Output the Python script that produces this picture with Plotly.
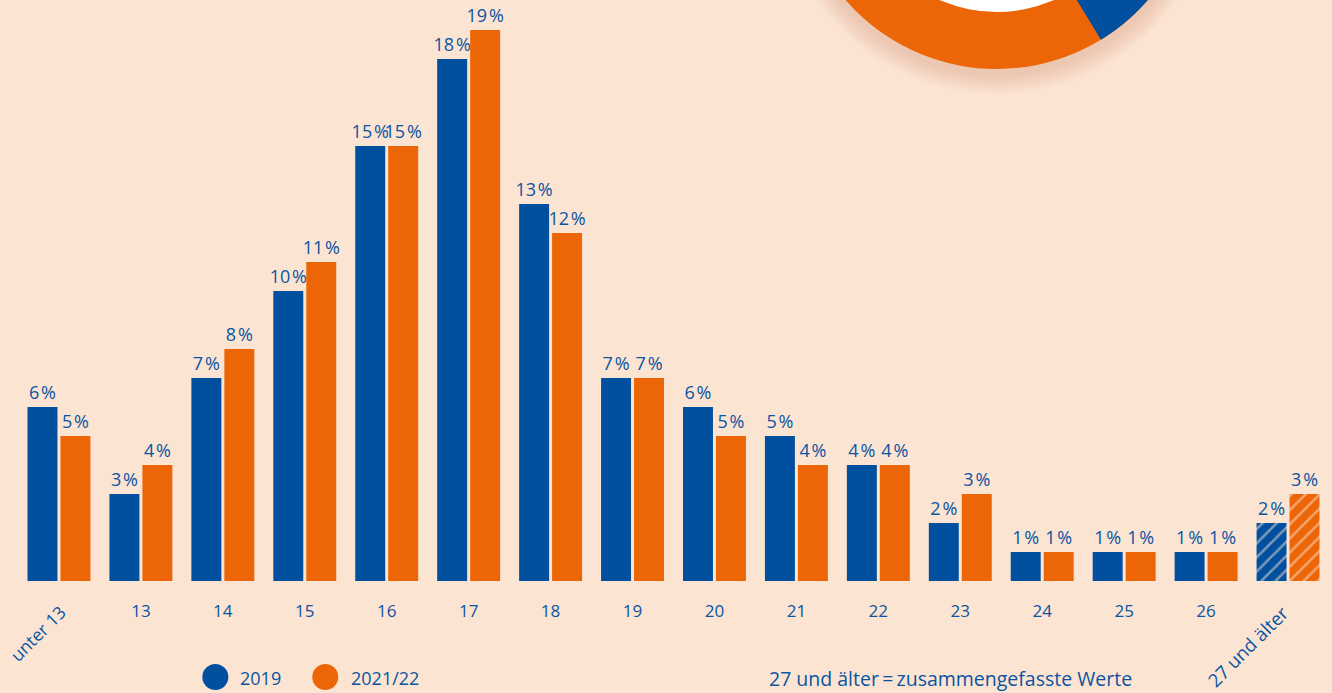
import numpy as np
import plotly.graph_objects as go

# ---------------- data ----------------
categories = ["unter 13", "13", "14", "15", "16", "17", "18", "19", "20",
              "21", "22", "23", "24", "25", "26", "27 und älter"]
values_2019 = [6, 3, 7, 10, 15, 18, 13, 7, 6, 5, 4, 2, 1, 1, 1, 2]
values_2021 = [5, 4, 8, 11, 15, 19, 12, 7, 5, 4, 4, 3, 1, 1, 1, 3]
series_names = ["2019", "2021/22"]
rotated_ticks = ["unter 13", "27 und älter"]
note_text = "27 und älter\u2009=\u2009zusammengefasste Werte"

# ---------------- style ----------------
BG = "#FCE4D3"
BLUE = "#00509F"
ORANGE = "#EC6608"
TEXT = "#0A54A2"
FONT = "Open Sans"

W, H = 1332, 693
ML, MR, MT, MB = 17.5, 2.5, 0, 112
PW, PH = W - ML - MR, H - MT - MB


def px_x(px):
    return (px - ML) / PW


def px_y(py):
    return (H - MB - py) / PH


def label(v):
    return f"{v}\u200a%"


hatch = ["/" if c == "27 und älter" else "" for c in categories]

fig = go.Figure()
for name, vals, col in [(series_names[0], values_2019, BLUE),
                        (series_names[1], values_2021, ORANGE)]:
    fig.add_trace(go.Bar(
        x=categories, y=vals, name=name,
        marker=dict(color=col, line=dict(width=0),
                    pattern=dict(shape=hatch, fgcolor=BG, bgcolor=col,
                                 size=10, solidity=0.25, fillmode="overlay")),
        text=[label(v) for v in vals], textposition="outside",
        textfont=dict(family=FONT, size=18, color=TEXT),
        constraintext="none", cliponaxis=False, showlegend=False,
    ))

ticktext = ["" if c in rotated_ticks else c for c in categories]

fig.update_layout(
    width=W, height=H,
    margin=dict(l=ML, r=MR, t=MT, b=MB),
    paper_bgcolor=BG, plot_bgcolor=BG,
    barmode="group", bargap=16 / 82, bargroupgap=3 / 33,
    showlegend=False,
    xaxis=dict(type="category", categoryorder="array", categoryarray=categories,
               tickmode="array", tickvals=categories, ticktext=ticktext,
               showgrid=False, zeroline=False, showline=False, ticks="",
               tickangle=0, ticklabelstandoff=18,
               tickfont=dict(family=FONT, size=17, color=TEXT),
               range=[-0.5, len(categories) - 0.5]),
    yaxis=dict(range=[0, PH / 29], showgrid=False, zeroline=False,
               showline=False, showticklabels=False, ticks=""),
)

# rotated tick labels
fig.add_annotation(x=categories[0], y=0, xref="x", yref="paper",
                   text=rotated_ticks[0], textangle=-45, showarrow=False,
                   xanchor="center", yanchor="middle", xshift=-21, yshift=-52,
                   font=dict(family=FONT, size=17.5, color=TEXT))
fig.add_annotation(x=categories[-1], y=0, xref="x", yref="paper",
                   text=rotated_ticks[1], textangle=-45, showarrow=False,
                   xanchor="center", yanchor="middle", xshift=-41, yshift=-65,
                   font=dict(family=FONT, size=18.5, color=TEXT))

# legend (circles + text)
for cx, tx, col, name in [(215, 238, BLUE, series_names[0]),
                          (325, 349, ORANGE, series_names[1])]:
    fig.add_shape(type="circle", xref="paper", yref="paper",
                  xsizemode="pixel", ysizemode="pixel",
                  xanchor=px_x(cx), yanchor=px_y(677),
                  x0=-13, x1=13, y0=-13, y1=13,
                  fillcolor=col, line=dict(width=0))
    fig.add_annotation(x=px_x(tx), y=px_y(678), xref="paper", yref="paper",
                       text=name, showarrow=False, xanchor="left", yanchor="middle",
                       font=dict(family=FONT, size=18, color=TEXT))

fig.add_annotation(x=px_x(951), y=px_y(678), xref="paper", yref="paper",
                   text=note_text, showarrow=False, xanchor="center", yanchor="middle",
                   font=dict(family=FONT, size=19.5, color=TEXT))

# decorative cut-off donut at the top
DCX, DCY = 997, -131
R_OUT, R_IN = 200, 143
for k in range(8, 0, -1):
    r = R_OUT + k * 2.5
    fig.add_shape(type="circle", xref="paper", yref="paper",
                  xsizemode="pixel", ysizemode="pixel",
                  xanchor=px_x(DCX), yanchor=px_y(DCY + 5),
                  x0=-r, x1=r, y0=-r, y1=r, layer="below",
                  fillcolor="rgba(150,90,50,0.022)", line=dict(width=0))
fig.add_shape(type="circle", xref="paper", yref="paper",
              xsizemode="pixel", ysizemode="pixel",
              xanchor=px_x(DCX), yanchor=px_y(DCY),
              x0=-R_OUT, x1=R_OUT, y0=-R_OUT, y1=R_OUT, layer="below",
              fillcolor=ORANGE, line=dict(width=0))
ang = np.radians(np.linspace(31.4, 95, 40))
pts = [(0.0, 0.0)] + [(R_OUT * np.sin(a), -R_OUT * np.cos(a)) for a in ang]
path = "M " + " L ".join(f"{x:.2f},{y:.2f}" for x, y in pts) + " Z"
fig.add_shape(type="path", xref="paper", yref="paper",
              xsizemode="pixel", ysizemode="pixel",
              xanchor=px_x(DCX), yanchor=px_y(DCY), path=path, layer="below",
              fillcolor=BLUE, line=dict(width=0))
fig.add_shape(type="circle", xref="paper", yref="paper",
              xsizemode="pixel", ysizemode="pixel",
              xanchor=px_x(DCX), yanchor=px_y(DCY),
              x0=-R_IN, x1=R_IN, y0=-R_IN, y1=R_IN, layer="below",
              fillcolor="#FFFFFF", line=dict(width=0))

fig.write_html("out.html", config={"displayModeBar": False},
               post_script="document.body.style.margin='0px';"
                           "document.body.style.overflow='hidden';")
